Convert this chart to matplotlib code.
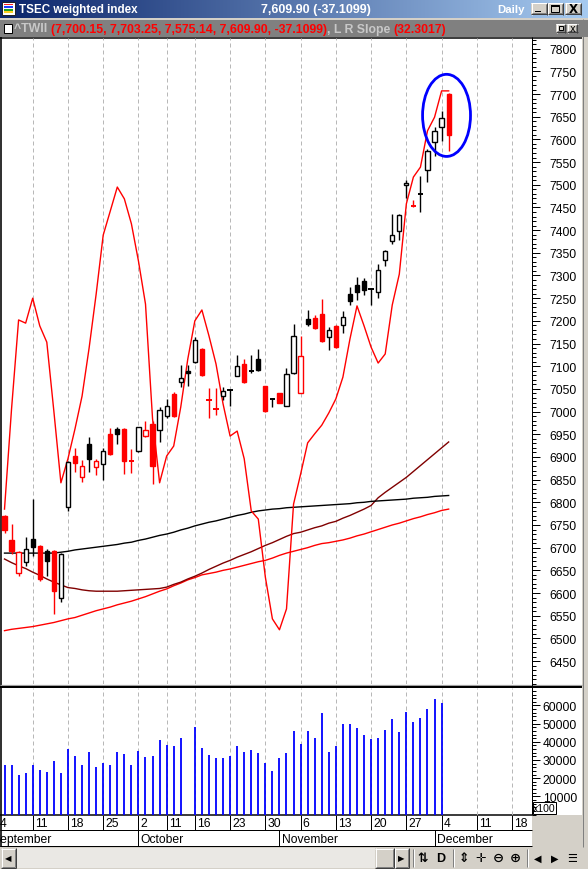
import matplotlib
matplotlib.use("Agg")
import matplotlib.pyplot as plt
from matplotlib.patches import Rectangle, Ellipse
from matplotlib.ticker import MultipleLocator
from matplotlib.colors import LinearSegmentedColormap
import numpy as np

plt.rcParams['font.family'] = ['Liberation Sans', 'DejaVu Sans']

# ------------------------------------------------------------------ data
title_name = "TSEC weighted index"
title_quote = "7,609.90 (-37.1099)"
period_name = "Daily"
legend_symbol = "^TWII "
legend_values = "(7,700.15, 7,703.25, 7,575.14, 7,609.90, -37.1099)"
legend_indicator = ", L R Slope "
legend_indicator_value = "(32.3017)"

opens = [6770, 6717, 6644, 6668, 6719, 6704, 6693, 6693, 6588, 6789,
         6901, 6855, 6928, 6877, 6884, 6951, 6962, 6962, 6891, 6912,
         6946, 6973, 6960, 6990, 7039, 7065, 7089, 7109, 7139, 7028,
         7006, 7034, 7047, 7079, 7105, 7090, 7117, 7056, 7027, 7040,
         7013, 7084, 7042, 7204, 7206, 7215, 7164, 7188, 7191, 7259,
         7279, 7288, 7269, 7263, 7335, 7375, 7399, 7499, 7455, 7480,
         7533, 7594, 7627, 7700.15]
highs = [6772, 6752, 6693, 6724, 6807, 6706, 6697, 6695, 6688, 6891,
         6919, 6894, 6945, 6896, 6919, 6963, 6967, 6963, 6918, 6967,
         6980, 6980, 7009, 7028, 7044, 7103, 7103, 7165, 7141, 7051,
         7051, 7054, 7050, 7125, 7116, 7125, 7138, 7057, 7031, 7042,
         7095, 7193, 7166, 7224, 7213, 7248, 7186, 7190, 7222, 7274,
         7297, 7295, 7272, 7325, 7356, 7436, 7436, 7510, 7467, 7520,
         7579, 7627, 7663, 7703.25]
lows = [6733, 6687, 6637, 6660, 6682, 6627, 6638, 6554, 6581, 6781,
        6866, 6845, 6867, 6860, 6850, 6905, 6928, 6862, 6865, 6910,
        6943, 6840, 6934, 6985, 6989, 7054, 7056, 7106, 7078, 6986,
        6993, 7026, 7013, 7078, 7064, 7086, 7089, 7000, 7011, 7018,
        7012, 7083, 7041, 7188, 7182, 7153, 7136, 7141, 7173, 7236,
        7247, 7257, 7236, 7250, 7322, 7370, 7378, 7470, 7452, 7439,
        7507, 7564, 7597, 7575.14]
closes = [6740, 6693, 6690, 6697, 6701, 6631, 6671, 6605, 6686, 6889,
          6886, 6881, 6895, 6890, 6914, 6906, 6951, 6892, 6889, 6965,
          6960, 6881, 7003, 7012, 6991, 7074, 7085, 7157, 7080, 7025,
          7004, 7045, 7048, 7101, 7066, 7089, 7092, 7002, 7028, 7020,
          7082, 7166, 7123, 7192, 7184, 7156, 7180, 7143, 7208, 7243,
          7264, 7267, 7270, 7313, 7353, 7389, 7433, 7505, 7453, 7481,
          7574, 7618, 7647.01, 7609.90]
close_before_first = 6780

# volume (x100); None = no bar shown
volume = [27500, 27000, 22000, 23000, 27500, 24300, 23200, 29200, 22600, 36000,
          32000, 27000, 34200, 25900, 28100, 27000, 34200, 33100, 27000, 34700,
          31400, 32000, 40800, 38000, 37500, 41900, None, 47900, 36400, 32500,
          30900, 30900, 32000, 37500, 34200, 35300, 33600, 28100, 23700, 30900,
          33600, 45700, 38600, 45700, 41900, 55600, 34200, 37500, 49600, 49600,
          47400, 43500, 41300, 41900, 46300, 52300, 45200, 56200, 50700, 52900,
          57800, 63300, 61100, None]

# L R Slope line, as drawn against the price scale
lr_slope = [6785, 7006, 7202, 7195, 7250, 7189, 7153, 7001, 6843, 6896,
            6962, 7034, 7140, 7259, 7389, 7442, 7495, 7469, 7414, 7332,
            7237, 6984, 6843, 6902, 6924, 7010, 7116, 7200, 7224, 7167,
            7105, 7017, 6946, 6957, 6896, 6781, 6763, 6635, 6543, 6519,
            6565, 6796, 6862, 6931, 6951, 6970, 6997, 7028, 7076, 7160,
            7233, 7189, 7142, 7107, 7127, 7235, 7303, 7458, 7517, 7539,
            7619, 7649, 7707, 7707]
ma_black = [6688, 6688, 6688, 6688, 6688, 6688, 6688, 6688, 6690, 6692,
            6695, 6697, 6699, 6701, 6703, 6705, 6707, 6710, 6712, 6716,
            6719, 6723, 6727, 6730, 6734, 6739, 6743, 6748, 6752, 6756,
            6759, 6763, 6767, 6771, 6774, 6778, 6781, 6783, 6785, 6786,
            6788, 6789, 6790, 6791, 6792, 6793, 6794, 6795, 6796, 6797,
            6799, 6800, 6802, 6803, 6804, 6805, 6806, 6807, 6809, 6810,
            6811, 6813, 6814, 6815]
ma_maroon = [6675, 6667, 6660, 6654, 6646, 6639, 6631, 6624, 6618, 6612,
             6610, 6607, 6605, 6604, 6604, 6604, 6604, 6605, 6606, 6607,
             6608, 6609, 6610, 6613, 6619, 6624, 6631, 6637, 6644, 6652,
             6659, 6666, 6672, 6679, 6685, 6691, 6698, 6705, 6711, 6718,
             6725, 6731, 6734, 6739, 6744, 6748, 6754, 6758, 6765, 6771,
             6778, 6785, 6793, 6810, 6822, 6833, 6844, 6855, 6868, 6881,
             6894, 6907, 6920, 6933]
ma_red = [6517, 6520, 6522, 6524, 6526, 6529, 6532, 6535, 6539, 6543,
          6546, 6551, 6556, 6561, 6565, 6569, 6574, 6578, 6582, 6587,
          6592, 6598, 6604, 6609, 6616, 6622, 6629, 6634, 6640, 6643,
          6646, 6650, 6653, 6657, 6661, 6665, 6669, 6672, 6677, 6683,
          6688, 6692, 6696, 6700, 6705, 6709, 6711, 6714, 6717, 6721,
          6726, 6730, 6735, 6740, 6745, 6750, 6754, 6759, 6764, 6768,
          6773, 6777, 6782, 6785]

week_ticks = [-1, 4, 9, 14, 19, 23, 27, 32, 37, 42, 47, 52, 57, 62, 67, 72]
week_labels = ["4", "11", "18", "25", "2", "11", "16", "23", "30", "6",
               "13", "20", "27", "4", "11", "18"]
month_ticks = [-2, 19, 39, 61]
month_labels = ["September", "October", "November", "December"]
price_ticks = [6450, 6500, 6550, 6600, 6650, 6700, 6750, 6800, 6850, 6900,
               6950, 7000, 7050, 7100, 7150, 7200, 7250, 7300, 7350, 7400,
               7450, 7500, 7550, 7600, 7650, 7700, 7750, 7800]
volume_ticks = [10000, 20000, 30000, 40000, 50000, 60000]
# annotation ellipse around the last bars (centre bar, centre price, size)
circle_center = (62.7, 7653)
circle_size = (6.8, 181)

# ------------------------------------------------------------------ layout
W, H = 588, 870
PX = 0.72
BG = '#D4D0C8'
fig = plt.figure(figsize=(W / 100, H / 100), dpi=100)
fig.patch.set_facecolor(BG)


def rect(x0, y0, x1, y1):
    return [x0 / W, 1 - y1 / H, (x1 - x0) / W, (y1 - y0) / H]


ui = fig.add_axes([0, 0, 1, 1], zorder=0)
ui.axis('off')


def box(x0, y0, x1, y1, fc, ec='none', lw=0, z=1):
    ui.add_patch(Rectangle((x0, y0), x1 - x0, y1 - y0, facecolor=fc,
                           edgecolor=ec, linewidth=lw, zorder=z))


def hline(y, x0, x1, c, lw=1, z=3):
    ui.plot([x0, x1], [y, y], color=c, lw=lw * PX, zorder=z, solid_capstyle='butt')


def vline(x, y0, y1, c, lw=1, z=3):
    ui.plot([x, x], [y0, y1], color=c, lw=lw * PX, zorder=z, solid_capstyle='butt')


def raised(x0, y0, x1, y1, z=4):
    box(x0, y0, x1, y1, BG, z=z)
    hline(y0 + 0.5, x0, x1, 'white', z=z + 0.1)
    vline(x0 + 0.5, y0, y1, 'white', z=z + 0.1)
    hline(y1 - 1.5, x0 + 1, x1 - 1, '#808080', z=z + 0.1)
    vline(x1 - 1.5, y0 + 1, y1 - 1, '#808080', z=z + 0.1)
    hline(y1 - 0.5, x0, x1, '#404040', z=z + 0.2)
    vline(x1 - 0.5, y0, y1, '#404040', z=z + 0.2)


# title bar gradient
cap = LinearSegmentedColormap.from_list('cap', ['#0A246A', '#A6CAF0'])
ui.imshow(np.linspace(0, 1, 256)[None, :], extent=(0, W, 18.5, 0), aspect='auto',
          cmap=cap, zorder=1)
ui.set_xlim(0, W)
ui.set_ylim(H, 0)

# icon
box(2, 2.5, 15, 15.5, 'white', ec='#202020', lw=0.7, z=3)
for k, c in enumerate(['#FF2020', '#2040FF', '#20A020', '#FFD020']):
    box(4, 4.5 + k * 2.6, 13, 6.3 + k * 2.6, c, z=4)

ui.text(19, 9.8, title_name, color='white', fontsize=8.4, fontweight='bold',
        va='center', ha='left', zorder=5)
ui.text(316, 9.8, title_quote, color='white', fontsize=9, fontweight='bold',
        va='center', ha='center', zorder=5)
ui.text(497.5, 10.3, period_name, color='white', fontsize=8.2, fontweight='bold',
        va='center', ha='left', zorder=5)
# window buttons
for bx0, bx1 in [(531, 547), (547.5, 563), (565, 581)]:
    raised(bx0, 3.5, bx1, 15.5, z=5)
box(535, 11.5, 541, 13, 'black', z=6)
box(551, 6, 559, 13, 'none', ec='black', lw=PX, z=6)
box(551, 6, 559, 7.5, 'black', z=6)
ui.text(572.8, 9.7, "X", fontsize=8.5, fontweight='bold', ha='center', va='center',
        color='black', zorder=6, family='DejaVu Sans')

# second (legend) bar
box(0, 20.5, W, 37.8, '#808080', z=1)
box(3.8, 25, 12, 33.5, 'white', ec='black', lw=PX, z=3)
renderer = fig.canvas.get_renderer()
xpos = 14
for txt, col in [(legend_symbol, '#C8C8C8'), (legend_values, '#FF0000'),
                 (legend_indicator, '#C8C8C8'), (legend_indicator_value, '#FF0000')]:
    t = ui.text(xpos, 29.5, txt, color=col, fontsize=8.8, fontweight='bold',
                va='center', ha='left', zorder=5)
    bb = t.get_window_extent(renderer)
    xpos += bb.width
raised(556, 24.5, 565.5, 33.5, z=5)
box(558.5, 27, 563, 30.5, 'none', ec='black', lw=PX, z=6)
raised(567, 24.5, 577.5, 33.5, z=5)
ui.text(572.2, 28.8, "x", fontsize=7, ha='center', va='center', color='black', zorder=6,
        family='DejaVu Sans')

# chart window background and frame
box(0, 38, 582, 816, 'white', z=1)
box(0, 816, 531.5, 847.5, 'white', z=1)
hline(38.5, 0, 582, 'black', lw=1.5)
vline(0.8, 38, 848, 'black', lw=1.6)
vline(582.5, 20, 848, '#808080', lw=1)
hline(685.5, 0, 582, '#A0A0A0', lw=1.2)
hline(688.2, 0, 582, 'black', lw=2)
vline(531.8, 38, 816, 'black', lw=1)
hline(815.7, 0, 532, 'black', lw=1.5)
hline(831.3, 0, 531.5, 'black', lw=1)
hline(847.2, 0, 531.5, 'black', lw=1)

# x100 box
box(532.5, 803, 555.5, 814.5, 'white', ec='black', lw=PX, z=5)
ui.text(544, 808.8, "x100", fontsize=7.6, ha='center', va='center', zorder=6)

# scrollbar
box(0, 848, W, H, BG, z=1)
raised(1, 849, 16, 869, z=4)
ui.text(8.3, 859, "\u25C0", fontsize=6, ha='center', va='center', zorder=6,
        family='DejaVu Sans')
box(16, 849, 375, 869, '#EAE8E4', z=2)
raised(375, 849, 394, 869, z=4)
raised(394.5, 849, 409, 869, z=4)
ui.text(401.5, 859, "\u25B6", fontsize=6, ha='center', va='center', zorder=6,
        family='DejaVu Sans')
for sx in [412.5, 452.6, 527]:
    vline(sx, 850, 868, '#808080', lw=1, z=4)
    vline(sx + 1, 850, 868, 'white', lw=1, z=4)
for sx, glyph, sz in [(423, "\u21C5", 9), (440.6, "D", 9), (463.9, "\u21D5", 9),
                      (481, "\u271B", 9), (498, "\u2296", 9.5), (515.6, "\u2295", 9.5),
                      (538, "\u25C0", 7), (555, "\u25B6", 7), (572, "\u2630", 8)]:
    ui.text(sx, 859, glyph, fontsize=sz, ha='center', va='center', zorder=6,
            fontweight='bold', family=['Liberation Sans', 'DejaVu Sans'])

# ------------------------------------------------------------------ data axes
X0 = (0 - 4.5) / 7.05
X1 = (531.5 - 4.5) / 7.05
P_LO = 7909.57 - 2.2046 * 685
P_HI = 7909.57 - 2.2046 * 39
GRID = dict(color='#B8B8B8', lw=PX, ls=(0, (4, 3)), zorder=0.5)

ax = fig.add_axes(rect(0, 39, 531.5, 685), zorder=2)
ax.set_facecolor('none')
ax.set_xlim(X0, X1)
ax.set_ylim(P_LO, P_HI)
for s in ax.spines.values():
    s.set_visible(False)
ax.tick_params(axis='x', which='both', bottom=False, top=False, labelbottom=False)
ax.yaxis.tick_right()
ax.set_yticks(price_ticks)
ax.set_yticklabels([str(t) for t in price_ticks])
ax.yaxis.set_minor_locator(MultipleLocator(10))
ax.tick_params(axis='y', which='major', direction='out', length=8 * PX, width=PX,
               pad=37.5 * PX, labelsize=8.7, right=True, left=False)
ax.tick_params(axis='y', which='minor', direction='out', length=3.5 * PX, width=PX,
               right=True, left=False)
plt.setp(ax.get_yticklabels(), ha='right')
for t in week_ticks:
    ax.axvline(t, **GRID)

idx = np.arange(len(closes))
ax.plot(idx, ma_red, color='#FF0000', lw=1.0, zorder=2)
ax.plot(idx, ma_maroon, color='#800000', lw=1.0, zorder=2)
ax.plot(idx, ma_black, color='#000000', lw=1.0, zorder=2)
ax.plot(idx, lr_slope, color='#FF0000', lw=1.0, zorder=2.5)

bw = 0.6
prev = close_before_first
for i in idx:
    o, h, l, c = opens[i], highs[i], lows[i], closes[i]
    col = '#FF0000' if c < prev else '#000000'
    prev = c
    ax.vlines(i, l, h, color=col, lw=1.0, zorder=3)
    lo, hi = min(o, c), max(o, c)
    if (hi - lo) * 0.4536 < 1.6:
        ax.hlines((o + c) / 2, i - bw / 2 - 0.07, i + bw / 2 + 0.07, color=col, lw=1.4, zorder=4)
    else:
        fc = 'white' if c > o else col
        ax.add_patch(Rectangle((i - bw / 2, lo), bw, hi - lo, facecolor=fc, edgecolor=col,
                               linewidth=1.0, zorder=4))

ax.add_patch(Ellipse(circle_center, circle_size[0], circle_size[1], fill=False,
                     edgecolor='#0000FF', lw=2.0, zorder=6))

# volume panel
axv = fig.add_axes(rect(0, 689.2, 531.5, 815.5), zorder=2)
axv.set_facecolor('none')
axv.set_xlim(X0, X1)
axv.set_ylim(0, 69500)
for s in axv.spines.values():
    s.set_visible(False)
axv.tick_params(axis='x', which='both', bottom=False, top=False, labelbottom=False)
axv.yaxis.tick_right()
axv.set_yticks(volume_ticks)
axv.set_yticklabels([str(t) for t in volume_ticks])
axv.yaxis.set_minor_locator(MultipleLocator(2000))
axv.tick_params(axis='y', which='major', direction='out', length=8 * PX, width=PX,
                pad=37.5 * PX, labelsize=8.7, right=True, left=False)
axv.tick_params(axis='y', which='minor', direction='out', length=3.5 * PX, width=PX,
                right=True, left=False)
plt.setp(axv.get_yticklabels(), ha='right')
for t in week_ticks:
    axv.axvline(t, **GRID)
vx = [i for i in idx if volume[i] is not None]
vy = [volume[i] for i in vx]
axv.vlines(vx, 0, vy, color='#0000FF', lw=1.3, zorder=3)

# date rows
axd = fig.add_axes(rect(0, 816.5, 531.5, 831), zorder=2)
axd.set_facecolor('none')
axd.set_xlim(X0, X1)
axd.set_ylim(0, 1)
axd.axis('off')
for t, lab in zip(week_ticks, week_labels):
    axd.axvline(t, color='black', lw=PX)
    axd.text(t + 0.28, 0.47, lab, fontsize=8.7, ha='left', va='center', clip_on=True)

axm = fig.add_axes(rect(0, 831.5, 531.5, 847), zorder=2)
axm.set_facecolor('none')
axm.set_xlim(X0, X1)
axm.set_ylim(0, 1)
axm.axis('off')
for t, lab in zip(month_ticks, month_labels):
    axm.axvline(t, color='black', lw=PX)
    axm.text(t + 0.3, 0.47, lab, fontsize=8.7, ha='left', va='center', clip_on=True)

fig.savefig('out.png', dpi=100, facecolor=fig.get_facecolor())
